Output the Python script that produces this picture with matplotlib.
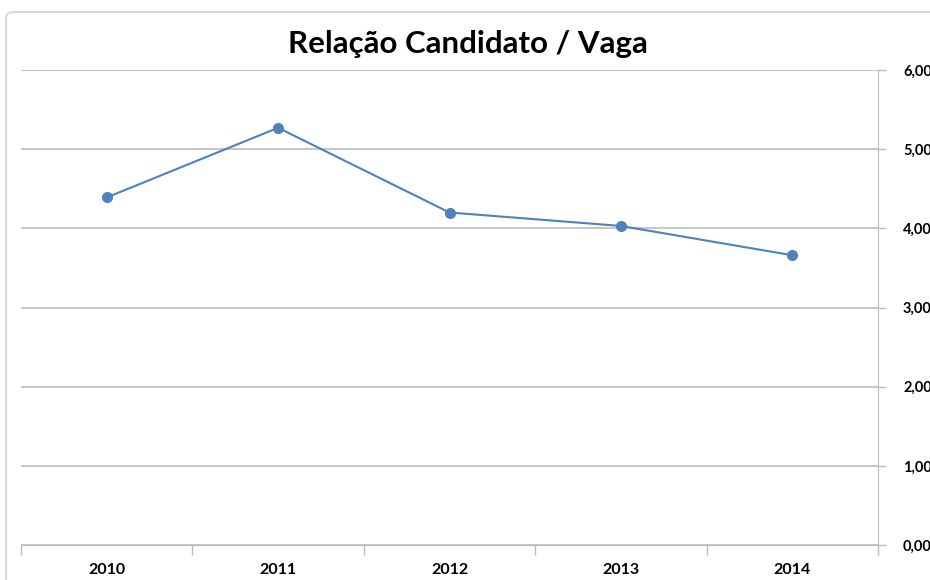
import matplotlib
matplotlib.use("Agg")
import matplotlib.pyplot as plt
from matplotlib.patches import FancyBboxPatch
from matplotlib.ticker import FixedLocator, FuncFormatter

years = ["2010", "2011", "2012", "2013", "2014"]
ratio = [4.39, 5.27, 4.20, 4.03, 3.66]
y_ticks = [0, 1, 2, 3, 4, 5, 6]

plt.rcParams['font.family'] = ['Lato', 'DejaVu Sans']

W, H = 930, 580
fig = plt.figure(figsize=(W / 100, H / 100), dpi=100)
fig.patch.set_facecolor("white")

# chart area frame
frame = FancyBboxPatch((6 / W, -0.05), 1.2, 1 - 12 / H + 0.05,
                       boxstyle="round,pad=0,rounding_size=0.01",
                       transform=fig.transFigure, fill=False,
                       edgecolor="#d9d9d9", linewidth=1.5, zorder=0)
fig.patches.append(frame)

ax = fig.add_axes([21 / W, 1 - 545 / H, (878 - 21) / W, (545 - 70) / H])
x = list(range(len(years)))
ax.plot(x, ratio, color="#4F81BD", linewidth=1.5, marker="o", markersize=7,
        zorder=3)

ax.set_xlim(-0.5, len(years) - 0.5)
ax.set_ylim(0, 6)

grid_c = "#bcbcbc"
ax.yaxis.tick_right()
ax.set_yticks(y_ticks)
ax.yaxis.set_major_formatter(FuncFormatter(lambda v, p: f"{v:.2f}".replace(".", ",")))
ax.tick_params(axis="y", which="major", length=6, color=grid_c, pad=12,
               labelsize=10.5, width=1)
for lab in ax.get_yticklabels():
    lab.set_fontweight("bold")

ax.xaxis.set_major_locator(FixedLocator([i - 0.5 for i in range(len(years) + 1)]))
ax.xaxis.set_minor_locator(FixedLocator(x))
ax.set_xticklabels([""] * (len(years) + 1))
ax.set_xticklabels(years, minor=True, fontweight="bold", fontsize=11.5)
ax.tick_params(axis="x", which="major", length=7, color=grid_c, width=1)
ax.tick_params(axis="x", which="minor", length=0, pad=13)

ax.grid(axis="y", color=grid_c, linewidth=1.2)
ax.set_axisbelow(True)
for side in ["left", "top"]:
    ax.spines[side].set_visible(False)
ax.spines["right"].set_color(grid_c)
ax.spines["bottom"].set_color(grid_c)

fig.text(468 / W, 1 - 44 / H, "Relação Candidato / Vaga",
         ha="center", va="center", fontsize=22.5, fontweight="bold")

fig.savefig("out.png", dpi=100)
